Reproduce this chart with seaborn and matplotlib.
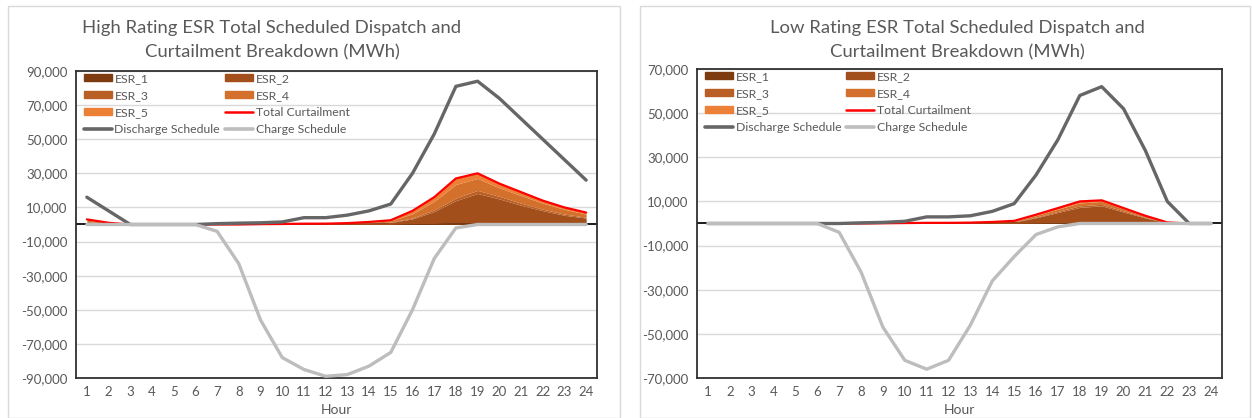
import matplotlib.pyplot as plt
import matplotlib.patches as mpatches
from matplotlib.lines import Line2D
from matplotlib.ticker import FuncFormatter
import pandas as pd
import seaborn as sns

sns.set_theme(style="white")
plt.rcParams["font.family"] = ["Lato", "DejaVu Sans"]

HOURS = list(range(1, 25))

# High rating case (MWh)
HIGH_DISCHARGE = [16000, 8000, 0, 0, 0, 0, 500, 800, 1000, 1500, 4000, 4000,
                  5500, 8000, 12000, 30000, 53000, 81000, 84000, 74000, 62000, 50000, 38000, 26000]
HIGH_CHARGE = [0, 0, 0, 0, 0, 0, -4000, -23000, -56000, -78000, -85000, -89000,
               -88000, -83000, -75000, -50000, -20000, -2000, 0, 0, 0, 0, 0, 0]
HIGH_CURTAIL = [3000, 1000, 0, 0, 0, 0, 0, 0, 200, 300, 500, 500,
                800, 1500, 2500, 8000, 16000, 27000, 30000, 24000, 19000, 14000, 10000, 7000]
HIGH_ESR_1 = [0, 0, 0, 0, 0, 0, 0, 0, 0, 0, 0, 0,
              0, 0, 0, 300, 600, 1000, 1200, 1000, 800, 600, 400, 300]
HIGH_ESR_2 = [1500, 500, 0, 0, 0, 0, 0, 0, 100, 150, 250, 250,
              400, 700, 1200, 3000, 7000, 13000, 17000, 14000, 10500, 7500, 5000, 3500]
HIGH_ESR_3 = [300, 100, 0, 0, 0, 0, 0, 0, 0, 0, 0, 0,
              0, 100, 200, 500, 1000, 1500, 1800, 1500, 1200, 900, 700, 500]
HIGH_ESR_4 = [800, 300, 0, 0, 0, 0, 0, 0, 50, 100, 150, 150,
              250, 400, 700, 2500, 5000, 8000, 7000, 5000, 4500, 3500, 2800, 1800]
HIGH_ESR_5 = [400, 100, 0, 0, 0, 0, 0, 0, 50, 50, 100, 100,
              150, 300, 400, 1700, 2400, 3500, 3000, 2500, 2000, 1500, 1100, 900]

# Low rating case (MWh)
LOW_DISCHARGE = [0, 0, 0, 0, 0, 0, 0, 300, 500, 1000, 3000, 3000,
                 3500, 5500, 9000, 22000, 38000, 58000, 62000, 52000, 33000, 10000, 0, 0]
LOW_CHARGE = [0, 0, 0, 0, 0, 0, -4000, -22000, -47000, -62000, -66000, -62000,
              -46000, -26000, -15000, -5000, -1500, 0, 0, 0, 0, 0, 0, 0]
LOW_CURTAIL = [0, 0, 0, 0, 0, 0, 0, 0, 100, 200, 300, 300,
               400, 700, 1200, 4000, 7000, 10000, 10500, 7000, 3500, 500, 0, 0]
LOW_ESR_1 = [0, 0, 0, 0, 0, 0, 0, 0, 0, 0, 0, 0,
             0, 0, 0, 100, 200, 300, 300, 200, 100, 0, 0, 0]
LOW_ESR_2 = [0, 0, 0, 0, 0, 0, 0, 0, 50, 100, 150, 150,
             200, 400, 700, 2500, 4800, 7000, 7700, 5000, 2400, 300, 0, 0]
LOW_ESR_3 = [0, 0, 0, 0, 0, 0, 0, 0, 0, 0, 0, 0,
             0, 50, 100, 300, 500, 700, 700, 500, 300, 50, 0, 0]
LOW_ESR_4 = [0, 0, 0, 0, 0, 0, 0, 0, 30, 60, 100, 100,
             130, 150, 250, 700, 1000, 1300, 1300, 900, 500, 100, 0, 0]
LOW_ESR_5 = [0, 0, 0, 0, 0, 0, 0, 0, 20, 40, 50, 50,
             70, 100, 150, 400, 500, 700, 500, 400, 200, 50, 0, 0]

ESR_NAMES = ["ESR_1", "ESR_2", "ESR_3", "ESR_4", "ESR_5"]
ESR_COLORS = ["#7F3B10", "#A24F1C", "#B95E24", "#D2702C", "#EC8036"]
RED = "#FF0000"
DARK_GRAY = "#666666"
LIGHT_GRAY = "#BDBDBD"
TEXT_GRAY = "#595959"

W, H = 1252, 418
fig = plt.figure(figsize=(W / 100, H / 100), dpi=100)
fig.patch.set_facecolor("white")


def px_box(x0, y0, x1, y1):
    """Pixel box (top-left origin) to figure-fraction [left, bottom, width, height]."""
    return [x0 / W, 1 - y1 / H, (x1 - x0) / W, (y1 - y0) / H]


def draw_panel(frame, plot_box, title_x, esrs, curtail, discharge, charge, ylim, yticks, title):
    # chart area border like an Excel chart
    fig.patches.append(mpatches.Rectangle(
        (frame[0] / W, 1 - frame[3] / H), (frame[2] - frame[0]) / W, (frame[3] - frame[1]) / H,
        transform=fig.transFigure, fill=False, edgecolor="#D9D9D9", linewidth=1.0))

    ax = fig.add_axes(px_box(*plot_box))
    ax.stackplot(HOURS, *esrs, colors=ESR_COLORS, linewidth=0, zorder=2)

    df = pd.DataFrame({"Hour": HOURS, "Discharge": discharge, "Charge": charge,
                       "Curtail": curtail})
    sns.lineplot(data=df, x="Hour", y="Curtail", color=RED, linewidth=1.6, ax=ax, zorder=3)
    sns.lineplot(data=df, x="Hour", y="Discharge", color=DARK_GRAY, linewidth=2.4, ax=ax, zorder=4)
    sns.lineplot(data=df, x="Hour", y="Charge", color=LIGHT_GRAY, linewidth=2.4, ax=ax, zorder=4)
    ax.axhline(0, color="#1a1a1a", linewidth=1.4, zorder=1)

    ax.set_xlim(0.5, 24.5)
    ax.set_ylim(*ylim)
    ax.set_xticks(HOURS)
    ax.set_yticks(yticks)
    ax.yaxis.set_major_formatter(FuncFormatter(lambda v, p: f"{int(v):,}"))
    ax.yaxis.grid(True, color="#D9D9D9", linewidth=1.0, zorder=0)
    ax.set_axisbelow(True)
    ax.tick_params(axis="both", labelsize=9.5, colors=TEXT_GRAY, length=0, pad=6)
    ax.set_xlabel("")
    ax.set_ylabel("")
    for spine in ax.spines.values():
        spine.set_color("#303030")
        spine.set_linewidth(1.3)

    handles = [mpatches.Patch(color=c, label=n) for c, n in zip(ESR_COLORS, ESR_NAMES)]
    h_red = Line2D([], [], color=RED, linewidth=1.8, label="Total Curtailment")
    h_dis = Line2D([], [], color=DARK_GRAY, linewidth=2.6, label="Discharge Schedule")
    h_chg = Line2D([], [], color=LIGHT_GRAY, linewidth=2.6, label="Charge Schedule")
    order = [handles[0], handles[2], handles[4], h_dis, handles[1], handles[3], h_red, h_chg]
    leg = ax.legend(handles=order, ncol=2, loc="upper left", bbox_to_anchor=(0.0, 1.02),
                    frameon=False, fontsize=8.8, labelspacing=0.5, handlelength=2.3,
                    handleheight=0.55, handletextpad=0.2, columnspacing=0.4, borderaxespad=0.25)
    for t in leg.get_texts():
        t.set_color(TEXT_GRAY)

    fig.text(title_x / W, 1 - 28 / H, title[0], ha="center", va="center",
             fontsize=13.3, color=TEXT_GRAY)
    fig.text(title_x / W, 1 - 52 / H, title[1], ha="center", va="center",
             fontsize=13.3, color=TEXT_GRAY)
    center = (plot_box[0] + plot_box[2]) / 2
    fig.text(center / W, 1 - 410 / H, "Hour", ha="center", va="center",
             fontsize=10, color=TEXT_GRAY)


draw_panel((8, 6, 620, 418), (76, 71, 597, 378), 272,
           [HIGH_ESR_1, HIGH_ESR_2, HIGH_ESR_3, HIGH_ESR_4, HIGH_ESR_5],
           HIGH_CURTAIL, HIGH_DISCHARGE, HIGH_CHARGE,
           (-90000, 90000), list(range(-90000, 90001, 20000)),
           ["High Rating ESR Total Scheduled Dispatch and", "Curtailment Breakdown (MWh)"])

draw_panel((640, 6, 1250, 418), (697, 69, 1222, 378), 957,
           [LOW_ESR_1, LOW_ESR_2, LOW_ESR_3, LOW_ESR_4, LOW_ESR_5],
           LOW_CURTAIL, LOW_DISCHARGE, LOW_CHARGE,
           (-70000, 70000), list(range(-70000, 70001, 20000)),
           ["Low Rating ESR Total Scheduled Dispatch and", "Curtailment Breakdown (MWh)"])

fig.savefig("out.png", dpi=100, facecolor="white")
